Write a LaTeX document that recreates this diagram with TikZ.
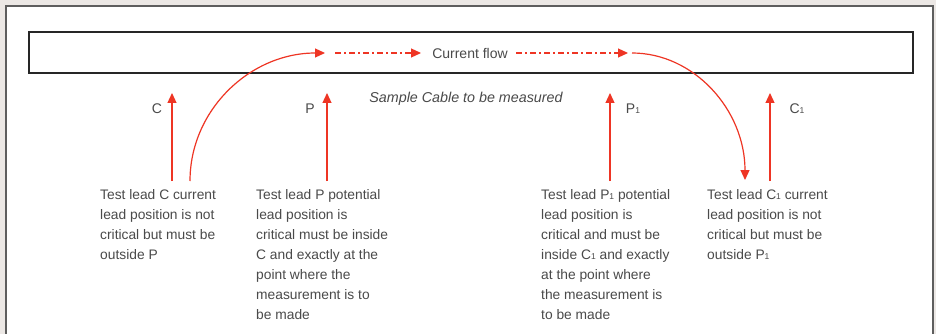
\documentclass[tikz,border=0pt]{standalone}
\usepackage{fontspec}
\setmainfont{Liberation Sans}
\usetikzlibrary{arrows.meta}
\definecolor{bgc}{HTML}{ECE8E5}
\definecolor{redl}{HTML}{EE3524}
\definecolor{txt}{HTML}{4A4A4A}
\definecolor{frame}{HTML}{5E5E5E}
\newcommand{\one}{\raisebox{-0.3pt}{\fontsize{8.5}{8.5}\selectfont 1}}
\begin{document}
\begin{tikzpicture}[x=1pt,y=-1pt,
  lead/.style={draw=redl,line width=1.2pt,-{Triangle[length=10pt,width=9pt]}},
  flowline/.style={lead,dash pattern=on 6pt off 3pt on 2pt off 3pt},
  lbl/.style={text=txt,font=\fontsize{14}{16}\selectfont,inner sep=0pt},
  blk/.style={text=txt,font=\fontsize{13.8}{20}\selectfont,align=left,inner sep=0pt,anchor=north west}]
\fill[bgc] (0,0) rectangle (936,334);
\useasboundingbox (0,0) rectangle (936,334);
\fill[white] (6,6) rectangle (933,340);
\draw[frame,line width=1.5pt] (6,340) -- (6,6) -- (933,6) -- (933,340);
\node[draw=black!85,line width=2.6pt,minimum width=884pt,minimum height=41pt,inner sep=0pt] (cable) at (471,52.5) {};
\node[lbl] (flow) at (470,53) {Current flow};
\coordinate (f1s) at (335,53);
\coordinate (f1e) at (421,53);
\coordinate (f2s) at (516,53);
\coordinate (f2e) at (628,53);
\coordinate (lcur) at (325,53);
\coordinate (rcur) at (632,53);
\draw[flowline] (f1s) -- (f1e);
\draw[flowline] (f2s) -- (f2e);
% vertical leads
\coordinate (cb) at (172,181); \coordinate (ct) at (172,93);
\coordinate (pb) at (327,181); \coordinate (pt) at (327,93);
\coordinate (p1b) at (610,181); \coordinate (p1t) at (610,93);
\coordinate (c1b) at (770,181); \coordinate (c1t) at (770,93);
\draw[lead] (cb) -- (ct);
\draw[lead] (pb) -- (pt);
\draw[lead] (p1b) -- (p1t);
\draw[lead] (c1b) -- (c1t);
% curves
\coordinate (cs) at (190,181);
\coordinate (c1e) at (745,180);
\draw[lead] (cs) .. controls (190,110) and (250,53) .. (lcur);
\draw[lead] (rcur) .. controls (694,53) and (745,110) .. (c1e);
% labels
\node[lbl] (lc) at (157,108.5) {C};
\node[lbl] (lp) at (310,108.5) {P};
\node[lbl] (lp1) at (633,108.5) {P\one};
\node[lbl] (lc1) at (797,108.5) {C\one};
\node[lbl,font=\fontsize{14.3}{16}\selectfont\itshape] (sample) at (466,99) {Sample Cable to be measured};
% text blocks
\node[blk] (tc) at (100,189) {Test lead C current\\lead position is not\\critical but must be\\outside P};
\node[blk] (tp) at (256,189) {Test lead P potential\\lead position is\\critical must be inside\\C and exactly at the\\point where the\\measurement is to\\be made};
\node[blk] (tp1) at (541,189) {Test lead P\one{} potential\\lead position is\\critical and must be\\inside C\one{} and exactly\\at the point where\\the measurement is\\to be made};
\node[blk] (tc1) at (707,189) {Test lead C\one{} current\\lead position is not\\critical but must be\\outside P\one};
\end{tikzpicture}
\end{document}
